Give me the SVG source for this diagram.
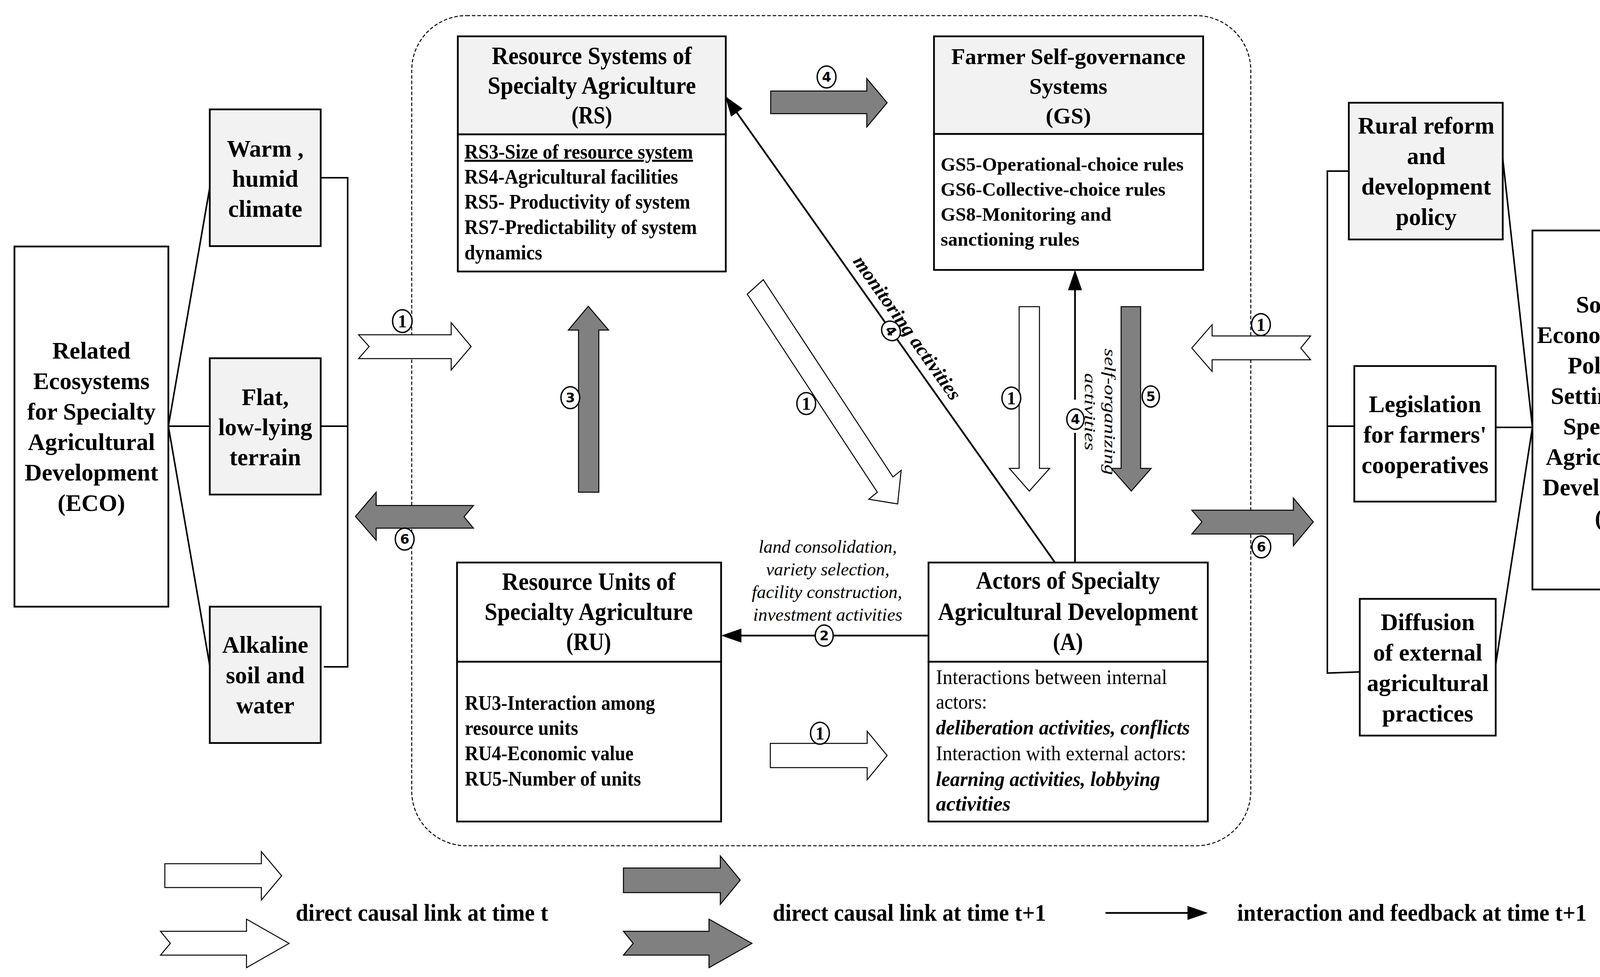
<svg xmlns="http://www.w3.org/2000/svg" width="4347" height="2501" viewBox="0 0 4347 2501">
<style>
text{font-family:"Liberation Serif","Times New Roman",serif;fill:#000}
.box{fill:#fff;stroke:#000;stroke-width:4.5}
.gbox{fill:#f2f2f2;stroke:#000;stroke-width:4.5}
.ln{fill:none;stroke:#000;stroke-width:4}
.wa{fill:#fff;stroke:#000;stroke-width:2.5;stroke-linejoin:miter}
.ga{fill:#808080;stroke:#000;stroke-width:2.5;stroke-linejoin:miter}
.fb{stroke:#000;stroke-width:4.5;fill:none}
.ttl{font-weight:bold;font-size:64px;text-anchor:middle}
.gst{font-weight:bold;font-size:58px;text-anchor:middle}
.eco{font-weight:bold;font-size:61px;text-anchor:middle}
.itm{font-weight:bold;font-size:52px}
.gsi{font-weight:bold;font-size:49px}
.bdy{font-size:52px}
.it{font-style:italic;font-weight:bold;font-size:52px}
.lbl{font-style:italic;font-size:47px;text-anchor:middle}
.mon{font-style:italic;font-weight:bold;font-size:50px;text-anchor:middle}
.so{font-style:italic;font-size:40px;text-anchor:middle}
.leg{font-weight:bold;font-size:62px}
.num ellipse{fill:#fff;stroke:#000;stroke-width:3.5}
.num text{font-family:"DejaVu Sans",sans-serif;font-weight:bold;font-size:34px;text-anchor:middle}
.num text.s{font-family:"Liberation Serif",serif;font-size:46px}
</style>
<defs>
<marker id="ah" markerUnits="userSpaceOnUse" markerWidth="52" markerHeight="36" refX="42" refY="18" orient="auto">
<path d="M0,0 L52,18 L0,36 Z" fill="#000"/>
</marker>
</defs>

<rect id="container" x="1054" y="40" width="2148" height="2125" rx="140" ry="140" fill="none" stroke="#000" stroke-width="2.5" stroke-dasharray="9 5"/>

<g id="connectors">
<polyline class="ln" points="537,480 431,1091 537,1704"/>
<line class="ln" x1="431" y1="1091" x2="537" y2="1091"/>
<polyline class="ln" points="821,455 890,455 890,1707 829,1707"/>
<line class="ln" x1="821" y1="1091" x2="890" y2="1091"/>
<polyline class="ln" points="3453,438 3398,438 3398,1723 3481,1720"/>
<line class="ln" x1="3398" y1="1091" x2="3467" y2="1091"/>
<polyline class="ln" points="3847,406 3923,1094 3829,1701"/>
<line class="ln" x1="3829" y1="1094" x2="3923" y2="1094"/>
<line class="fb" x1="2700" y1="1439" x2="1862" y2="254" marker-end="url(#ah)"/>
<line class="fb" x1="2752" y1="1023" x2="2752" y2="701" marker-end="url(#ah)"/>
<line class="fb" x1="2752" y1="1439" x2="2752" y2="1108"/>
<line class="fb" x1="2377" y1="1627" x2="1856" y2="1627" marker-end="url(#ah)"/>
<polygon class="wa" points="918,857 1155,857 1155,826 1206,887 1155,947 1155,918 918,918 945,887"/>
<polygon class="ga" points="910,1322 963,1260 963,1294 1212,1294 1188,1323 1212,1352 963,1352 963,1383"/>
<polygon class="ga" points="1973,233 2219,233 2219,201 2271,263 2219,325 2219,291 1973,291"/>
<polygon class="ga" points="1481,1260 1481,845 1455,845 1506,784 1558,845 1533,845 1533,1260"/>
<polygon class="wa" points="1913,753 1954,716 2286,1221 2307,1204 2298,1290 2224,1278 2246,1260"/>
<polygon class="wa" points="2609,785 2661,785 2661,1199 2687,1199 2635,1257 2584,1199 2609,1199"/>
<polygon class="ga" points="2870,785 2920,785 2920,1199 2947,1199 2896,1257 2845,1199 2870,1199"/>
<polygon class="wa" points="3051,891 3103,831 3103,860 3355,860 3330,891 3355,921 3103,921 3103,951"/>
<polygon class="ga" points="3051,1306 3311,1306 3311,1275 3362,1336 3311,1397 3311,1367 3051,1367 3077,1336"/>
<polygon class="wa" points="1972,1903 2220,1903 2220,1872 2271,1934 2220,1996 2220,1965 1972,1965"/>
<text class="mon" transform="translate(2323,839) rotate(54.7)" x="0" y="17" textLength="440" lengthAdjust="spacingAndGlyphs">monitoring activities</text>
<text class="so" transform="translate(2828,1054) rotate(90)" textLength="324" lengthAdjust="spacingAndGlyphs">self-organizing</text>
<text class="so" transform="translate(2777,1054) rotate(90)" textLength="198" lengthAdjust="spacingAndGlyphs">activities</text>
<text class="lbl" x="2119" y="1415" textLength="354" lengthAdjust="spacingAndGlyphs">land consolidation,</text>
<text class="lbl" x="2119" y="1473" textLength="316" lengthAdjust="spacingAndGlyphs">variety selection,</text>
<text class="lbl" x="2117" y="1531" textLength="385" lengthAdjust="spacingAndGlyphs">facility construction,</text>
<text class="lbl" x="2119" y="1589" textLength="382" lengthAdjust="spacingAndGlyphs">investment activities</text>
<g class="num"><ellipse cx="1030" cy="822" rx="25" ry="29"/><text class="s" x="1030" y="838">1</text></g>
<g class="num"><ellipse cx="1036" cy="1380" rx="24" ry="28"/><text x="1036" y="1392">6</text></g>
<g class="num"><ellipse cx="1460" cy="1018" rx="24" ry="28"/><text x="1460" y="1030">3</text></g>
<g class="num"><ellipse cx="2116" cy="197" rx="24" ry="28"/><text x="2116" y="209">4</text></g>
<g class="num"><ellipse cx="2064" cy="1033" rx="24" ry="28"/><text class="s" x="2064" y="1049">1</text></g>
<g class="num" transform="translate(2281,847) rotate(54.7)"><ellipse cx="0" cy="0" rx="26" ry="23"/><text x="0" y="12">4</text></g>
<g class="num"><ellipse cx="2589" cy="1019" rx="24" ry="28"/><text class="s" x="2589" y="1035">1</text></g>
<g class="num"><ellipse cx="2753" cy="1073" rx="22" ry="26"/><text x="2753" y="1085">4</text></g>
<g class="num"><ellipse cx="2946" cy="1015" rx="22" ry="27"/><text x="2946" y="1027">5</text></g>
<g class="num"><ellipse cx="3228" cy="831" rx="24" ry="28"/><text class="s" x="3228" y="847">1</text></g>
<g class="num"><ellipse cx="3229" cy="1400" rx="24" ry="28"/><text x="3229" y="1412">6</text></g>
<g class="num"><ellipse cx="2110" cy="1627" rx="23" ry="27"/><text x="2110" y="1639">2</text></g>
<g class="num"><ellipse cx="2099" cy="1877" rx="24" ry="28"/><text class="s" x="2099" y="1893">1</text></g>
</g>

<g id="ECO">
<rect class="box" x="37" y="631" width="394" height="922"/>
<text class="eco" x="234" y="918">Related</text>
<text class="eco" x="234" y="996">Ecosystems</text>
<text class="eco" x="234" y="1074">for Specialty</text>
<text class="eco" x="234" y="1152">Agricultural</text>
<text class="eco" x="234" y="1230">Development</text>
<text class="eco" x="234" y="1308">(ECO)</text>
</g>
<g id="eco-climate">
<rect class="gbox" x="537" y="280" width="284" height="350"/>
<text class="eco" x="679" y="401">Warm ,</text>
<text class="eco" x="679" y="478">humid</text>
<text class="eco" x="679" y="555">climate</text>
</g>
<g id="eco-terrain">
<rect class="gbox" x="537" y="917" width="284" height="349"/>
<text class="eco" x="679" y="1037">Flat,</text>
<text class="eco" x="679" y="1114">low-lying</text>
<text class="eco" x="679" y="1191">terrain</text>
</g>
<g id="eco-soil">
<rect class="gbox" x="537" y="1553" width="284" height="349"/>
<text class="eco" x="679" y="1671">Alkaline</text>
<text class="eco" x="679" y="1749">soil and</text>
<text class="eco" x="679" y="1826">water</text>
</g>

<g id="RS">
<rect class="gbox" x="1172" y="93" width="686" height="251"/>
<rect class="box" x="1172" y="344" width="686" height="351"/>
<text class="ttl" x="1515" y="164" textLength="512" lengthAdjust="spacingAndGlyphs">Resource Systems of</text>
<text class="ttl" x="1515" y="240" textLength="533" lengthAdjust="spacingAndGlyphs">Specialty Agriculture</text>
<text class="ttl" x="1515" y="316" textLength="104" lengthAdjust="spacingAndGlyphs">(RS)</text>
<text class="itm" x="1189" y="406" textLength="585" lengthAdjust="spacingAndGlyphs" text-decoration="underline">RS3-Size of resource system</text>
<text class="itm" x="1189" y="470" textLength="547" lengthAdjust="spacingAndGlyphs">RS4-Agricultural facilities</text>
<text class="itm" x="1189" y="534" textLength="578" lengthAdjust="spacingAndGlyphs">RS5- Productivity of system</text>
<text class="itm" x="1189" y="599" textLength="595" lengthAdjust="spacingAndGlyphs">RS7-Predictability of system</text>
<text class="itm" x="1189" y="664" textLength="199" lengthAdjust="spacingAndGlyphs">dynamics</text>
</g>

<g id="GS">
<rect class="gbox" x="2391" y="93" width="689" height="250"/>
<rect class="box" x="2391" y="343" width="689" height="348"/>
<text class="gst" x="2735" y="164">Farmer Self-governance</text>
<text class="gst" x="2735" y="240">Systems</text>
<text class="gst" x="2735" y="316">(GS)</text>
<text class="gsi" x="2408" y="437">GS5-Operational-choice rules</text>
<text class="gsi" x="2408" y="501">GS6-Collective-choice rules</text>
<text class="gsi" x="2408" y="565">GS8-Monitoring and</text>
<text class="gsi" x="2408" y="629">sanctioning rules</text>
</g>

<g id="RU">
<rect class="box" x="1170" y="1440" width="676" height="254"/>
<rect class="box" x="1170" y="1694" width="676" height="409"/>
<text class="ttl" x="1507" y="1510" textLength="444" lengthAdjust="spacingAndGlyphs">Resource Units of</text>
<text class="ttl" x="1507" y="1587" textLength="533" lengthAdjust="spacingAndGlyphs">Specialty Agriculture</text>
<text class="ttl" x="1507" y="1664" textLength="115" lengthAdjust="spacingAndGlyphs">(RU)</text>
<text class="itm" x="1190" y="1817" textLength="487" lengthAdjust="spacingAndGlyphs">RU3-Interaction among</text>
<text class="itm" x="1190" y="1881" textLength="290" lengthAdjust="spacingAndGlyphs">resource units</text>
<text class="itm" x="1190" y="1946" textLength="432" lengthAdjust="spacingAndGlyphs">RU4-Economic value</text>
<text class="itm" x="1190" y="2011" textLength="451" lengthAdjust="spacingAndGlyphs">RU5-Number of units</text>
</g>

<g id="A">
<rect class="box" x="2377" y="1440" width="715" height="254"/>
<rect class="box" x="2377" y="1694" width="715" height="409"/>
<text class="ttl" x="2734" y="1507" textLength="471" lengthAdjust="spacingAndGlyphs">Actors of Specialty</text>
<text class="ttl" x="2734" y="1587" textLength="666" lengthAdjust="spacingAndGlyphs">Agricultural Development</text>
<text class="ttl" x="2734" y="1664" textLength="77" lengthAdjust="spacingAndGlyphs">(A)</text>
<text class="bdy" x="2396" y="1751" textLength="592" lengthAdjust="spacingAndGlyphs">Interactions between internal</text>
<text class="bdy" x="2396" y="1814" textLength="131" lengthAdjust="spacingAndGlyphs">actors:</text>
<text class="it" x="2396" y="1880" textLength="650" lengthAdjust="spacingAndGlyphs">deliberation activities, conflicts</text>
<text class="bdy" x="2396" y="1946" textLength="641" lengthAdjust="spacingAndGlyphs">Interaction with external actors:</text>
<text class="it" x="2396" y="2012" textLength="574" lengthAdjust="spacingAndGlyphs">learning activities, lobbying</text>
<text class="it" x="2396" y="2075" textLength="191" lengthAdjust="spacingAndGlyphs">activities</text>
</g>

<g id="s-policy">
<rect class="gbox" x="3453" y="263" width="394" height="350"/>
<text class="eco" x="3651" y="342">Rural reform</text>
<text class="eco" x="3651" y="420">and</text>
<text class="eco" x="3651" y="498">development</text>
<text class="eco" x="3651" y="576">policy</text>
</g>
<g id="s-legislation">
<rect class="box" x="3467" y="937" width="362" height="347"/>
<text class="eco" x="3648" y="1055">Legislation</text>
<text class="eco" x="3648" y="1133">for farmers'</text>
<text class="eco" x="3648" y="1211">cooperatives</text>
</g>
<g id="s-diffusion">
<rect class="box" x="3481" y="1533" width="348" height="350"/>
<text class="eco" x="3655" y="1613">Diffusion</text>
<text class="eco" x="3655" y="1691">of external</text>
<text class="eco" x="3655" y="1769">agricultural</text>
<text class="eco" x="3655" y="1847">practices</text>
</g>
<g id="S">
<rect class="box" x="3923" y="590" width="395" height="919"/>
<text class="eco" x="4120" y="800">Social,</text>
<text class="eco" x="4120" y="878">Economic and</text>
<text class="eco" x="4120" y="956">Political</text>
<text class="eco" x="4120" y="1034">Settings for</text>
<text class="eco" x="4120" y="1112">Specialty</text>
<text class="eco" x="4120" y="1190">Agricultural</text>
<text class="eco" x="4120" y="1268">Development</text>
<text class="eco" x="4120" y="1346">(S)</text>
</g>

<g id="legend">
<polygon class="wa" points="422,2211 669,2211 669,2180 721,2242 669,2304 669,2272 422,2272"/>
<polygon class="wa" points="411,2384 631,2384 631,2353 740,2415 631,2477 631,2445 411,2445 436,2415"/>
<text class="leg" x="757" y="2357" textLength="646" lengthAdjust="spacingAndGlyphs">direct causal link at time t</text>
<polygon class="ga" points="1596,2222 1844,2222 1844,2191 1895,2253 1844,2315 1844,2285 1596,2285"/>
<polygon class="ga" points="1596,2384 1815,2384 1815,2353 1925,2415 1815,2477 1815,2445 1596,2445 1621,2415"/>
<text class="leg" x="1978" y="2357" textLength="700" lengthAdjust="spacingAndGlyphs">direct causal link at time t+1</text>
<line class="fb" x1="2830" y1="2337" x2="3082" y2="2337" marker-end="url(#ah)"/>
<text class="leg" x="3167" y="2357" textLength="895" lengthAdjust="spacingAndGlyphs">interaction and feedback at time t+1</text>
</g>
</svg>
